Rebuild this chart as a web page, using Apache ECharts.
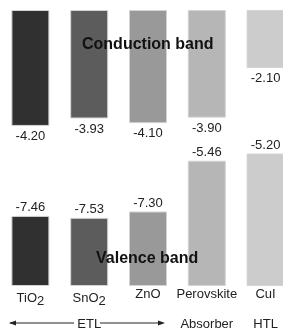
<!DOCTYPE html>
<html>
<head>
<meta charset="utf-8">
<script src="https://cdn.jsdelivr.net/npm/echarts@6/dist/echarts.min.js"></script>
<style>
  html, body { margin: 0; padding: 0; background: #fff; overflow: hidden; }
  #chart { width: 296px; height: 333px; }
</style>
</head>
<body>
<div id="chart"></div>
<script>
// band edges in eV
const categories = ['TiO2', 'SnO2', 'ZnO', 'Perovskite', 'CuI']
const cbValues = [-4.20, -3.93, -4.10, -3.90, -2.10]
const vbValues = [-7.46, -7.53, -7.30, -5.46, -5.20]
const groupLabels = ['', 'ETL', '', 'Absorber', 'HTL']
const axisMin = -10
const axisMax = 0
const barColors = ['#303030', '#5c5c5c', '#999999', '#b6b6b6', '#cccccc']

const font = 'Liberation Sans, Arial, sans-serif'

function catLabel(name) {
  const m = name.match(/^(.*?)(\d+)$/)
  if (m) return '{a|' + m[1] + '}{s|' + m[2] + '}'
  return '{a|' + name + '}'
}

const chart = echarts.init(document.getElementById('chart'))
chart.setOption({
  animation: false,
  textStyle: { fontFamily: font },
  grid: { left: 1, right: 1, top: 10, bottom: 47 },
  xAxis: [
    {
      type: 'category',
      data: categories,
      axisLine: { show: false },
      axisTick: { show: false },
      axisLabel: {
        interval: 0,
        margin: 2,
        formatter: catLabel,
        rich: {
          a: { fontSize: 13, color: '#222', fontFamily: font },
          s: { fontSize: 13, color: '#222', fontFamily: font, padding: [7, 0, 0, 0] }
        }
      }
    },
    {
      type: 'category',
      data: groupLabels,
      position: 'bottom',
      offset: 28,
      axisLine: { show: false },
      axisTick: { show: false },
      axisLabel: { interval: 0, fontSize: 13, color: '#222', margin: 4 }
    }
  ],
  yAxis: {
    type: 'value',
    min: axisMin,
    max: axisMax,
    show: false
  },
  series: [
    {
      name: 'Conduction band',
      type: 'bar',
      barWidth: 38,
      barGap: '-100%',
      data: cbValues.map((v, i) => ({ value: v, itemStyle: { color: barColors[i] } })),
      itemStyle: { borderColor: '#d4d4d4', borderWidth: 1 },
      label: {
        show: true,
        position: 'bottom',
        distance: 4,
        fontSize: 13,
        color: '#222',
        formatter: p => cbValues[p.dataIndex].toFixed(2)
      }
    },
    {
      name: 'base',
      type: 'bar',
      stack: 'vb',
      barWidth: 38,
      barGap: '-100%',
      silent: true,
      itemStyle: { color: 'transparent' },
      data: vbValues
    },
    {
      name: 'Valence band',
      type: 'bar',
      stack: 'vb',
      barWidth: 38,
      barGap: '-100%',
      data: vbValues.map((v, i) => ({ value: axisMin - v, itemStyle: { color: barColors[i] } })),
      itemStyle: { borderColor: '#d4d4d4', borderWidth: 1 },
      label: {
        show: true,
        position: 'top',
        distance: 2,
        fontSize: 13,
        color: '#222',
        formatter: p => vbValues[p.dataIndex].toFixed(2)
      }
    }
  ],
  graphic: [
    {
      type: 'text',
      left: 148 - 66, top: 37, z: 100,
      style: { text: 'Conduction band', fill: '#111', font: 'bold 16px ' + font }
    },
    {
      type: 'text',
      left: 146 - 50, top: 251, z: 100,
      style: { text: 'Valence band', fill: '#111', font: 'bold 16px ' + font }
    },
    { type: 'line', shape: { x1: 10, y1: 323, x2: 74, y2: 323 }, style: { stroke: '#222', lineWidth: 1 } },
    { type: 'line', shape: { x1: 100, y1: 323, x2: 163, y2: 323 }, style: { stroke: '#222', lineWidth: 1 } },
    { type: 'polygon', shape: { points: [[9, 323], [16, 320.5], [16, 325.5]] }, style: { fill: '#222' } },
    { type: 'polygon', shape: { points: [[165, 323], [158, 320.5], [158, 325.5]] }, style: { fill: '#222' } }
  ]
})
</script>
</body>
</html>
